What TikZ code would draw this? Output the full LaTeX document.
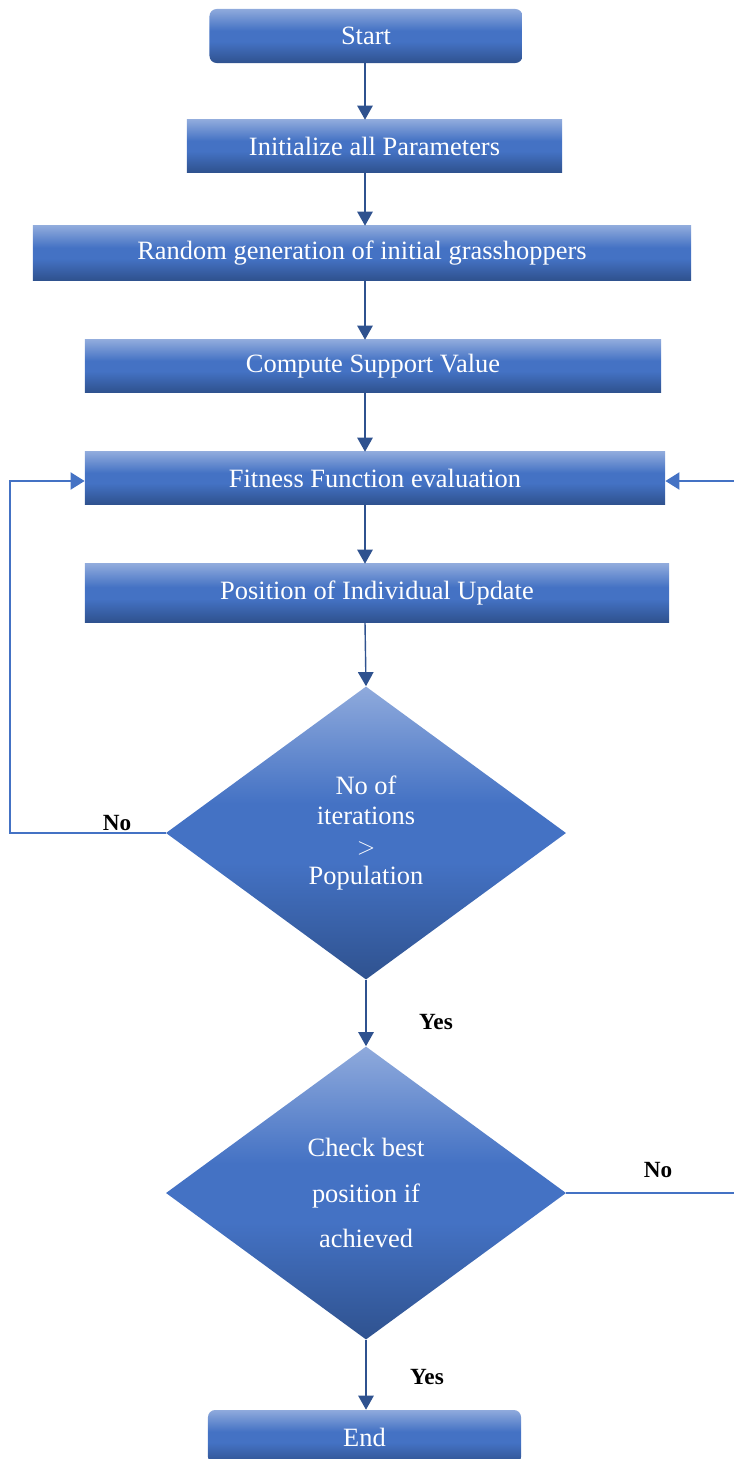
\documentclass[tikz,border=0pt]{standalone}
\usepackage{fontspec}
\setmainfont{Liberation Serif}
\usetikzlibrary{shapes.geometric,arrows.meta}
\definecolor{boxtop}{HTML}{8FAADC}
\definecolor{boxmid}{HTML}{4472C4}
\definecolor{boxbot}{HTML}{2F528F}
\definecolor{arrowblue}{HTML}{2F528F}
\definecolor{loopblue}{HTML}{4472C4}
\pgfdeclareverticalshading{boxfade}{100bp}{color(0bp)=(boxbot); color(25bp)=(boxbot);
  color(45bp)=(boxmid); color(55bp)=(boxmid); color(75bp)=(boxtop); color(100bp)=(boxtop)}
\begin{document}
\begin{tikzpicture}[x=0.025cm,y=-0.025cm,
    box/.style={rectangle,shading=boxfade,text=white,inner sep=0pt,
      font=\fontsize{18.8}{22}\selectfont},
    term/.style={box,rounded corners=0.18cm},
    decide/.style={diamond,shading=boxfade,text=white,inner sep=0pt,align=center,
      minimum width=10cm,minimum height=7.325cm},
    flow/.style={draw=arrowblue,line width=1pt,-{Triangle[width=11pt,length=10pt]}},
    loop/.style={draw=loopblue,line width=1.8pt,-{Triangle[width=12pt,length=10pt]}},
    answer/.style={font=\fontsize{16.5}{20}\selectfont\bfseries}]
  \useasboundingbox (0,0) rectangle (733,1459);
  \draw
    (366,36) node[term,minimum width=7.825cm,minimum height=1.35cm] (start){Start}
    (374.5,146) node[box,minimum width=9.375cm,minimum height=1.3cm] (init){Initialize all Parameters}
    (362,253) node[box,minimum width=16.45cm,minimum height=1.35cm] (rand){Random generation of initial grasshoppers}
    (373,366) node[box,minimum width=14.4cm,minimum height=1.3cm] (support){Compute Support Value}
    (375,478) node[box,minimum width=14.5cm,minimum height=1.3cm] (fitness){Fitness Function evaluation}
    (377,593) node[box,minimum width=14.6cm,minimum height=1.45cm] (update){Position of Individual Update}
    (366,833) node[decide,font=\fontsize{18.8}{21.3}\selectfont] (iter){No of\\iterations\\$>$\\Population}
    (366,1193) node[decide,font=\fontsize{18.8}{32.6}\selectfont] (check){Check best\\position if\\achieved}
    (364.5,1437) node[term,minimum width=7.825cm,minimum height=1.35cm] (stop){End};
  \coordinate (axis) at (365,0);
  \coordinate (lefttrack) at (10,0);
  \coordinate (righttrack) at (745,0);
  \begin{scope}[flow]
    \draw (start.south -| axis) -- (init.north -| axis);
    \draw (init.south -| axis) -- (rand.north -| axis);
    \draw (rand.south -| axis) -- (support.north -| axis);
    \draw (support.south -| axis) -- (fitness.north -| axis);
    \draw (fitness.south -| axis) -- (update.north -| axis);
    \draw (update.south -| axis) -- (iter.north);
    \draw (iter.south) -- (check.north);
    \draw (check.south) -- (stop.north -| check);
  \end{scope}
  \begin{scope}[loop]
    \draw (iter.west) -- (iter.west -| lefttrack) |- ([yshift=-0.075cm]fitness.west);
    \draw (check.east) -- (check.east -| righttrack) |- ([yshift=-0.075cm]fitness.east);
  \end{scope}
  \node[answer] (no1) at (117,823) {No};
  \node[answer] (yes1) at (436,1022) {Yes};
  \node[answer] (no2) at (658,1170) {No};
  \node[answer] (yes2) at (427,1377) {Yes};
\end{tikzpicture}
\end{document}
